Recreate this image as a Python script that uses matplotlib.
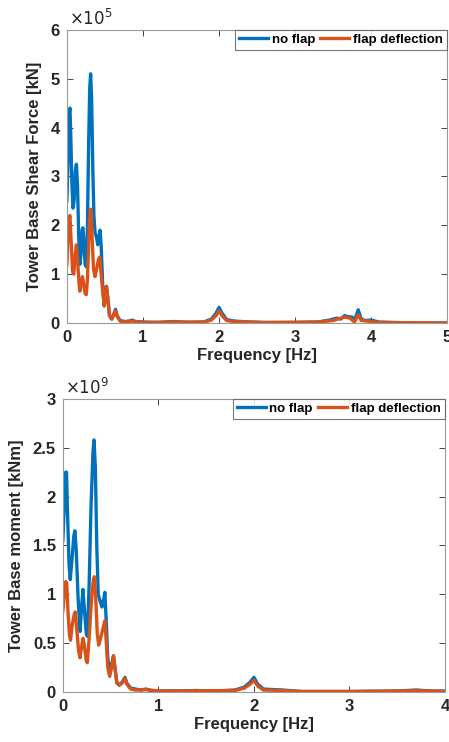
import numpy as np
import matplotlib.pyplot as plt

plt.rcParams['font.family'] = ['Liberation Sans', 'DejaVu Sans']

# top panel: tower base shear force, values in 1e5 kN
f_shear_noflap = [0.000, 0.015, 0.030, 0.040, 0.050, 0.065, 0.080, 0.095, 0.110, 0.125, 0.140, 0.155,
                  0.170, 0.185, 0.200, 0.210, 0.225, 0.240, 0.255, 0.270, 0.285, 0.300, 0.312, 0.325,
                  0.340, 0.355, 0.370, 0.390, 0.405, 0.420, 0.435, 0.450, 0.470, 0.490, 0.505, 0.520,
                  0.535, 0.560, 0.590, 0.620, 0.640, 0.660, 0.700, 0.760, 0.820, 0.860, 0.900, 1.000,
                  1.2, 1.4, 1.6, 1.8, 1.9, 1.96, 2.0, 2.04, 2.1, 2.2, 2.4, 2.6, 3.0, 3.3, 3.45, 3.55,
                  3.6, 3.65, 3.7, 3.75, 3.78, 3.83, 3.87, 3.92, 4.0, 4.1, 4.3, 4.6, 5.0]
shear_noflap = [2.50, 3.3, 4.3, 4.4, 3.9, 2.9, 2.35, 2.5, 3.1, 3.25, 2.8, 1.8,
                1.2, 1.4, 1.9, 1.95, 1.6, 1.2, 1.15, 2.0, 3.6, 4.8, 5.1, 4.6,
                3.2, 2.2, 1.85, 1.75, 1.6, 1.75, 1.9, 1.6, 0.8, 0.35, 0.55, 0.75,
                0.55, 0.15, 0.08, 0.2, 0.28, 0.15, 0.05, 0.03, 0.04, 0.06, 0.03, 0.02,
                0.01, 0.03, 0.01, 0.02, 0.08, 0.2, 0.32, 0.2, 0.07, 0.04, 0.02, 0.01, 0.01, 0.02, 0.06, 0.1,
                0.08, 0.15, 0.13, 0.12, 0.05, 0.27, 0.08, 0.05, 0.06, 0.02, 0.01, 0.0, 0.0]

f_shear_flap = [0.000, 0.015, 0.030, 0.040, 0.055, 0.075, 0.090, 0.110, 0.125, 0.140, 0.160, 0.170,
                0.190, 0.205, 0.220, 0.240, 0.255, 0.270, 0.290, 0.305, 0.315, 0.330, 0.350, 0.370,
                0.390, 0.415, 0.430, 0.450, 0.470, 0.490, 0.505, 0.520, 0.535, 0.560, 0.590, 0.620,
                0.640, 0.660, 0.700, 0.760, 0.860, 1.0, 1.4, 1.8, 1.9, 1.96, 2.0, 2.04, 2.1, 2.2,
                2.6, 3.3, 3.5, 3.6, 3.65, 3.72, 3.78, 3.83, 3.87, 3.95, 4.1, 5.0]
shear_flap = [1.2, 1.8, 2.15, 2.2, 1.7, 1.05, 1.0, 1.4, 1.6, 1.3, 0.8, 0.65,
              0.85, 0.95, 0.8, 0.6, 0.58, 0.9, 1.8, 2.3, 2.33, 1.8, 1.1, 0.95,
              1.1, 1.3, 1.35, 1.0, 0.65, 0.35, 0.55, 0.75, 0.55, 0.15, 0.08, 0.18,
              0.25, 0.13, 0.04, 0.02, 0.04, 0.01, 0.02, 0.02, 0.06, 0.15, 0.25, 0.15, 0.05, 0.03,
              0.01, 0.02, 0.05, 0.1, 0.12, 0.1, 0.02, 0.17, 0.05, 0.04, 0.01, 0.0]

# bottom panel: tower base moment, values in 1e9 kNm
f_moment_noflap = [0.000, 0.015, 0.030, 0.038, 0.050, 0.065, 0.077, 0.095, 0.115, 0.126, 0.140, 0.160,
                   0.180, 0.195, 0.210, 0.225, 0.245, 0.256, 0.275, 0.295, 0.315, 0.326, 0.340, 0.355,
                   0.370, 0.390, 0.410, 0.428, 0.440, 0.455, 0.470, 0.490, 0.510, 0.530, 0.545, 0.565,
                   0.590, 0.620, 0.650, 0.670, 0.710, 0.760, 0.820, 0.870, 0.920, 1.0, 1.2, 1.4, 1.6,
                   1.8, 1.9, 1.96, 2.0, 2.04, 2.1, 2.3, 2.5, 3.0, 3.5, 3.7, 3.85, 4.0]
moment_noflap = [1.55, 1.9, 2.25, 2.25, 1.8, 1.3, 1.15, 1.35, 1.6, 1.65, 1.45, 0.95,
                 0.62, 0.85, 1.05, 0.85, 0.6, 0.57, 1.1, 1.9, 2.45, 2.58, 2.3, 1.5,
                 1.0, 0.93, 0.87, 0.95, 1.02, 0.7, 0.35, 0.2, 0.28, 0.37, 0.25, 0.1,
                 0.07, 0.1, 0.15, 0.09, 0.04, 0.03, 0.02, 0.03, 0.015, 0.01, 0.01, 0.015, 0.01,
                 0.02, 0.05, 0.1, 0.15, 0.08, 0.03, 0.02, 0.005, 0.005, 0.01, 0.02, 0.01, 0.01]

f_moment_flap = [0.000, 0.015, 0.030, 0.040, 0.055, 0.070, 0.080, 0.100, 0.120, 0.130, 0.145, 0.165,
                 0.180, 0.195, 0.210, 0.225, 0.245, 0.256, 0.275, 0.300, 0.320, 0.330, 0.345, 0.360,
                 0.375, 0.395, 0.420, 0.440, 0.455, 0.470, 0.490, 0.510, 0.530, 0.545, 0.565, 0.590,
                 0.620, 0.650, 0.670, 0.710, 0.760, 0.870, 1.0, 1.4, 1.8, 1.9, 1.96, 2.0, 2.04, 2.1,
                 2.3, 2.5, 3.0, 3.5, 3.7, 3.85, 4.0]
moment_flap = [0.83, 1.0, 1.13, 1.12, 0.8, 0.58, 0.53, 0.7, 0.8, 0.82, 0.65, 0.42,
               0.35, 0.45, 0.55, 0.48, 0.32, 0.3, 0.55, 0.95, 1.15, 1.18, 0.95, 0.6,
               0.48, 0.55, 0.65, 0.73, 0.5, 0.25, 0.16, 0.25, 0.37, 0.25, 0.09, 0.07,
               0.09, 0.14, 0.08, 0.03, 0.02, 0.025, 0.01, 0.012, 0.015, 0.04, 0.08, 0.12, 0.06, 0.02,
               0.015, 0.005, 0.005, 0.01, 0.015, 0.01, 0.005]

blue = '#0072BD'
orange = '#D95319'

fig = plt.figure(figsize=(4.49, 7.42), dpi=100)
ax1 = fig.add_axes([0.149, 0.5647, 0.847, 0.395])
ax2 = fig.add_axes([0.140, 0.0674, 0.851, 0.395])

panels = [
    (ax1, f_shear_noflap, shear_noflap, f_shear_flap, shear_flap, 5, 6, np.arange(0, 7, 1),
     '5', 'Tower Base Shear Force [kN]'),
    (ax2, f_moment_noflap, moment_noflap, f_moment_flap, moment_flap, 4, 3, np.arange(0, 3.01, 0.5),
     '9', 'Tower Base moment [kNm]'),
]

for ax, f1, y1, f2, y2, xmax, ymax, yt, expo, ylab in panels:
    ax.plot(f1, y1, color=blue, lw=2.4, label='no flap')
    ax.plot(f2, y2, color=orange, lw=2.4, label='flap deflection')
    ax.set_xlim(0, xmax)
    ax.set_ylim(0, ymax)
    ax.set_xticks(np.arange(0, xmax + 1, 1))
    ax.set_yticks(yt)
    ax.set_yticklabels(['%g' % v for v in yt])
    ax.tick_params(direction='in', top=True, right=True, labelsize=12, colors='#262626',
                   length=4, width=0.6, pad=5)
    for lbl in ax.get_xticklabels() + ax.get_yticklabels():
        lbl.set_fontweight('bold')
    for s in ax.spines.values():
        s.set_color('#9a9a9a')
        s.set_linewidth(0.8)
    ax.set_xlabel('Frequency [Hz]', fontsize=12, fontweight='bold', color='#262626', labelpad=2)
    ax.set_ylabel(ylab, fontsize=12, fontweight='bold', color='#262626', labelpad=6)
    ax.text(0.005, 1.005, r'$\times 10^{%s}$' % expo, transform=ax.transAxes, ha='left', va='bottom',
            fontsize=12, color='#262626')
    leg = ax.legend(loc='upper right', ncol=2, fontsize=9.5, borderaxespad=0, frameon=True, fancybox=False,
                    handlelength=2.2, handletextpad=0.3, columnspacing=0.4, borderpad=0.3)
    leg.get_frame().set_edgecolor('#555555')
    leg.get_frame().set_linewidth(0.8)
    for t in leg.get_texts():
        t.set_fontweight('bold')

fig.savefig('out.png', dpi=100)
